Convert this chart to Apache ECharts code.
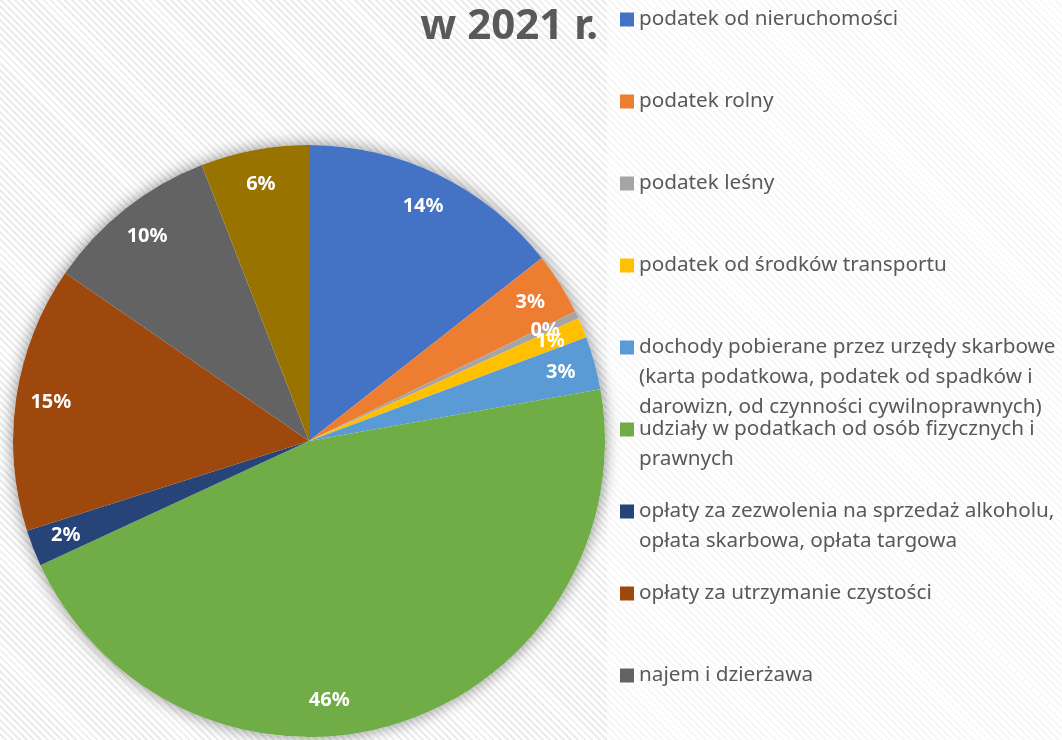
<!DOCTYPE html>
<html>
<head>
<meta charset="utf-8">
<script src="https://cdn.jsdelivr.net/npm/echarts@6/dist/echarts.min.js"></script>
<style>
  html, body { margin: 0; padding: 0; }
  body {
    width: 1062px; height: 740px; overflow: hidden;
    background: repeating-linear-gradient(45deg, #ffffff 0 3px, #ececec 3px 5px);
  }
  #chart { width: 1062px; height: 740px; }
</style>
</head>
<body>
<div id="chart"></div>
<script>
(function() {
  var ink = '#595959';

  // share of each revenue source (%), clockwise from 12 o'clock
  var names = [
    'podatek od nieruchomości',
    'podatek rolny',
    'podatek leśny',
    'podatek od środków transportu',
    'dochody pobierane przez urzędy skarbowe (karta podatkowa, podatek od spadków i darowizn, od czynności cywilnoprawnych)',
    'udziały w podatkach od osób fizycznych i prawnych',
    'opłaty za zezwolenia na sprzedaż alkoholu, opłata skarbowa, opłata targowa',
    'opłaty za utrzymanie czystości',
    'najem i dzierżawa',
    'pozostałe dochody'
  ];
  var shares = [14.4, 3.4, 0.4, 1.1, 2.9, 45.9, 2.0, 14.5, 9.5, 5.9];
  var colors = ['#4472C4', '#ED7D31', '#A5A5A5', '#FFC000', '#5B9BD5',
                '#70AD47', '#264478', '#9E480E', '#636363', '#997300'];
  // legend text as it wraps in the original
  var legendText = [
    'podatek od nieruchomości',
    'podatek rolny',
    'podatek leśny',
    'podatek od środków transportu',
    'dochody pobierane przez urzędy skarbowe\n(karta podatkowa, podatek od spadków i\ndarowizn, od czynności cywilnoprawnych)',
    'udziały w podatkach od osób fizycznych i\nprawnych',
    'opłaty za zezwolenia na sprzedaż alkoholu,\nopłata skarbowa, opłata targowa',
    'opłaty za utrzymanie czystości',
    'najem i dzierżawa',
    'pozostałe dochody'
  ];

  var font = '"Noto Sans", "DejaVu Sans", sans-serif';
  var center = [309, 441];
  var R = 296;
  var LH = 30;

  var pieData = names.map(function(n, i) {
    return { name: n, value: shares[i], itemStyle: { color: colors[i] } };
  });

  // one legend per entry so the first lines sit on an even 82px step;
  // blank lines on top keep the icon level with the first text line
  var legends = names.map(function(n, i) {
    var lines = legendText[i].split('\n').length;
    var txt = new Array(lines).join('\n') + legendText[i];
    var iconY = 19.5 + i * 82;
    return {
      data: [n],
      left: 620,
      top: iconY - LH * (2 * lines - 1) / 2,
      padding: 0,
      icon: 'rect',
      itemWidth: 14,
      itemHeight: 14,
      selectedMode: false,
      formatter: function() { return txt; },
      textStyle: { color: ink, fontSize: 20.7, fontFamily: font, lineHeight: LH }
    };
  });

  var labelData = names.map(function(n, i) {
    var d = { name: n, value: shares[i] };
    // the big slice's label sits lower in the original
    if (i === 5) d.label = { offset: [-58, 10] };
    return d;
  });

  var chart = echarts.init(document.getElementById('chart'), null, { renderer: 'canvas' });
  chart.setOption({
    animation: false,
    backgroundColor: 'transparent',
    title: {
      text: 'w 2021 r.',
      right: 1062 - 598,
      top: 4,
      padding: 0,
      textStyle: { color: ink, fontSize: 42, fontWeight: 'bold', fontFamily: font, lineHeight: 46 }
    },
    graphic: [{
      type: 'rect', left: 607, top: 0, z: -10,
      shape: { width: 455, height: 740 },
      style: { fill: 'rgba(255,255,255,0.6)' }
    }],
    legend: legends,
    series: [
      { // soft shadow behind the pie
        type: 'pie', silent: true, center: center, radius: R,
        data: [{ name: '_shadow', value: 1 }],
        label: { show: false }, labelLine: { show: false },
        itemStyle: { color: '#ffffff', shadowBlur: 16, shadowColor: 'rgba(0,0,0,0.45)' }
      },
      {
        type: 'pie', center: center, radius: R, startAngle: 90, clockwise: true,
        data: pieData,
        label: { show: false }, labelLine: { show: false },
        itemStyle: { borderWidth: 0 },
        emphasis: { disabled: true }
      },
      { // transparent ring only to place the % labels further out
        type: 'pie', silent: true, center: center, radius: [220, R], startAngle: 90, clockwise: true,
        avoidLabelOverlap: false,
        labelLayout: { hideOverlap: false },
        data: labelData,
        itemStyle: { color: 'transparent', borderWidth: 0 },
        labelLine: { show: false },
        label: {
          show: true, position: 'inside',
          color: '#ffffff', fontSize: 20, fontWeight: 'bold', fontFamily: font,
          formatter: function(p) { return Math.round(p.percent) + '%'; }
        }
      }
    ]
  });
  window.addEventListener('resize', function() { chart.resize(); });
})();
</script>
</body>
</html>
